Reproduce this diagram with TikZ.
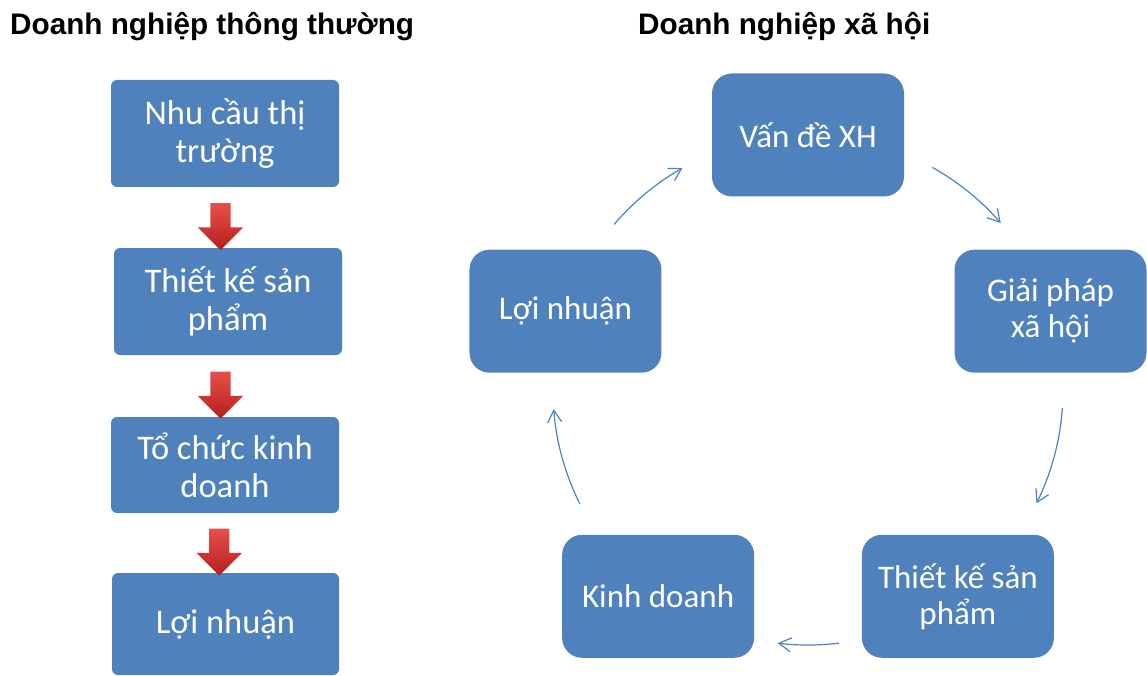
\documentclass[tikz,border=0pt]{standalone}
\usepackage{fontspec}
\setmainfont{Carlito}
\newfontfamily\headfont{Liberation Sans}
\usepackage{xcolor}
\usepackage{tikz}
\usetikzlibrary{shapes.arrows,arrows.meta,calc}
\definecolor{boxblue}{RGB}{79,129,189}
\definecolor{arrowred}{RGB}{230,80,74}
\definecolor{arrowdark}{RGB}{182,30,28}
\tikzset{flow box/.style = {fill=boxblue, rounded corners=6pt, text=white, align=center,
    inner sep=0pt, minimum width=228pt, minimum height=107pt,
    font=\fontsize{34.5}{38}\selectfont},
  cycle box/.style = {fill=boxblue, rounded corners=20pt, text=white, align=center,
    inner sep=0pt, minimum width=192pt, minimum height=123pt,
    font=\fontsize{33}{36}\selectfont},
  down arrow/.style = {single arrow, shape border rotate=270, inner sep=10pt,
    minimum height=47pt, minimum width=45pt, single arrow head extend=12.5pt,
    top color=arrowred, bottom color=arrowdark},
  cycle arrow/.style = {draw=boxblue, line width=1.2pt,
    -{Straight Barb[length=12pt,width=14pt]}},
  head/.style = {anchor=base west, inner sep=0pt,
    font=\headfont\bfseries\fontsize{29.7}{34}\selectfont}
}
\begin{document}
\begin{tikzpicture}[x=1pt,y=-1pt]
  \useasboundingbox (0,0) rectangle (1147,676);
  \node[head] (normal) at (10,35) {Doanh nghiệp thông thường};
  \node[head] (social) at (638,35) {Doanh nghiệp xã hội};
  \node[flow box] (nhucau) at (225,133.5) {Nhu cầu thị\\trường};
  \node[flow box] (thietke) at (228,301.5) {Thiết kế sản\\phẩm};
  \node[flow box, minimum height=96pt] (tochuc) at (225,465) {Tổ chức kinh\\doanh};
  \node[flow box, minimum width=227pt, minimum height=102pt] (loinhuan) at (225.5,624) {Lợi nhuận};
  \node[down arrow] (ar1) at ($(nhucau.south)!0.5!(thietke.north)+(-6,4)$) {};
  \node[down arrow] (ar2) at ($(thietke.south)!0.5!(tochuc.north)+(-6,4)$) {};
  \node[down arrow] (ar3) at ($(tochuc.south)!0.5!(loinhuan.north)+(-6,4)$) {};
  \coordinate (ring) at (808,390);
  \node[cycle box] (vande) at ([shift={(270:255)}]ring) {Vấn đề XH};
  \node[cycle box] (giaiphap) at ([shift={(342:255)}]ring) {Giải pháp\\xã hội};
  \node[cycle box] (sanpham) at ([shift={(54:255)}]ring) {Thiết kế sản\\phẩm};
  \node[cycle box] (kinhdoanh) at ([shift={(126:255)}]ring) {Kinh doanh};
  \node[cycle box] (loi) at ([shift={(198:255)}]ring) {Lợi nhuận};
  \draw[cycle arrow] (ring) ++(220.5:255) arc[start angle=220.5, end angle=240.5, radius=255];
  \draw[cycle arrow] (ring) ++(299.2:255) arc[start angle=299.2, end angle=319.1, radius=255];
  \draw[cycle arrow] (ring) ++(4:255) arc[start angle=4, end angle=26.4, radius=255];
  \draw[cycle arrow] (ring) ++(83:255) arc[start angle=83, end angle=96.8, radius=255];
  \draw[cycle arrow] (ring) ++(153.4:255) arc[start angle=153.4, end angle=175.7, radius=255];
\end{tikzpicture}
\end{document}
